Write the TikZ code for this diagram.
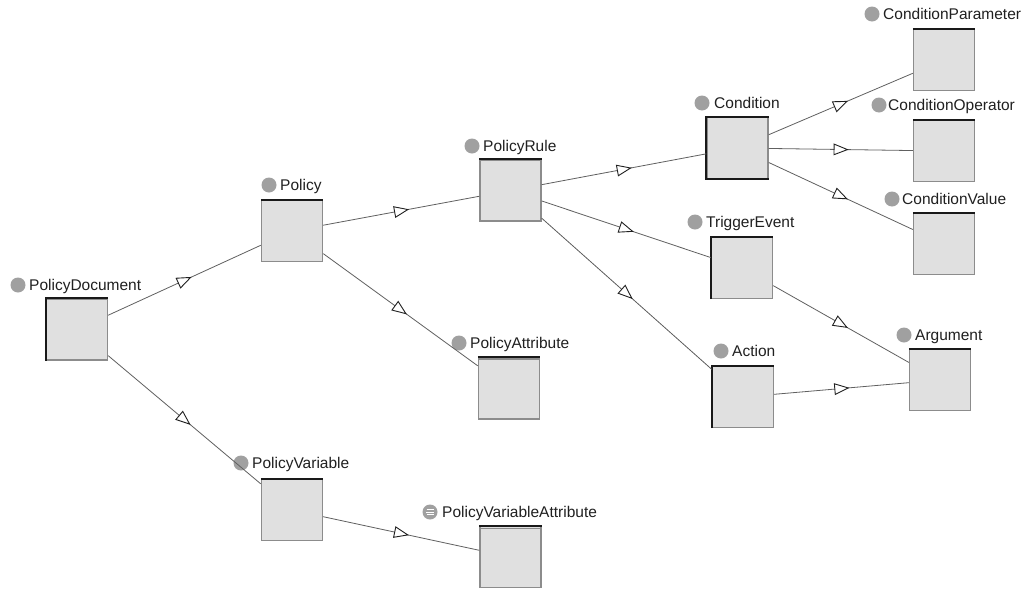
\documentclass[tikz,border=0pt]{standalone}
\usepackage{fontspec}
\setmainfont{Liberation Sans}
\usetikzlibrary{decorations.markings}
\definecolor{boxfill}{HTML}{E0E0E0}
\definecolor{boxline}{HTML}{8C8C8C}
\definecolor{dotgrey}{HTML}{A0A0A0}
\definecolor{edgegrey}{HTML}{606060}
\definecolor{txt}{HTML}{202020}
\begin{document}
\begin{tikzpicture}[x=1pt,y=-1pt,
  cls/.style={rectangle, draw=boxline, fill=boxfill, line width=1.4pt, minimum width=61pt, minimum height=61pt, inner sep=0pt},
  lbl/.style={anchor=base west, inner sep=0pt, font=\fontsize{15.5}{18}\selectfont, text=txt},
  lbldot/.style={circle, fill=dotgrey, minimum size=15pt, inner sep=0pt},
  rel/.style={draw=edgegrey, line width=0.8pt, postaction={decorate},
    decoration={markings, mark=at position 0.5 with {\draw[draw=txt, fill=white, line width=0.9pt, line join=miter] (6.7pt,0pt) -- (-6.7pt,5.3pt) -- (-6.7pt,-5.3pt) -- cycle;}}},
  darkedge/.style={draw=black!90, line width=2pt},
  secondline/.style={draw=boxline, line width=1pt},
]
\fill[white] (0,0) rectangle (1029,592);
\useasboundingbox (0,0) rectangle (1029,592);

% labels
\node[lbldot] (dPD) at (18,285) {};
\node[lbl] (tPD) at (29,290.5) {PolicyDocument};
\node[lbldot] (dP) at (269,185) {};
\node[lbl] (tP) at (280,190.5) {Policy};
\node[lbldot] (dPR) at (472,146) {};
\node[lbl] (tPR) at (483,151.5) {PolicyRule};
\node[lbldot] (dC) at (702,103) {};
\node[lbl] (tC) at (714,108.5) {Condition};
\node[lbldot] (dCP) at (872,14) {};
\node[lbl] (tCP) at (883,19.5) {ConditionParameter};
\node[lbldot] (dCO) at (879,105) {};
\node[lbl] (tCO) at (888,110.5) {ConditionOperator};
\node[lbldot] (dCV) at (892,199) {};
\node[lbl] (tCV) at (902,204.5) {ConditionValue};
\node[lbldot] (dTE) at (695,222) {};
\node[lbl] (tTE) at (706,227.5) {TriggerEvent};
\node[lbldot] (dA) at (721,351) {};
\node[lbl] (tA) at (732,356.5) {Action};
\node[lbldot] (dArg) at (904,335) {};
\node[lbl] (tArg) at (915,340.5) {Argument};
\node[lbldot] (dPA) at (459,343) {};
\node[lbl] (tPA) at (470,348.5) {PolicyAttribute};
\node[lbldot] (dPV) at (241,463) {};
\node[lbl] (tPV) at (252,468.5) {PolicyVariable};
\node[lbldot] (dPVA) at (430,512) {};
\draw[white, line width=0.9pt] (426.5,509.5) -- (433.5,509.5) (426,512) -- (434,512) (426.5,514.5) -- (433.5,514.5);
\node[lbl] (tPVA) at (442,517.5) {PolicyVariableAttribute};

% boxes
\node[cls] (PD) at (77,329.5) {};
\node[cls] (P) at (292,231) {};
\node[cls] (PR) at (510.5,190.5) {};
\node[cls] (C) at (737.5,148) {};
\node[cls] (CP) at (944,60) {};
\node[cls] (CO) at (944,151) {};
\node[cls] (CV) at (944,244) {};
\node[cls] (TE) at (742,268) {};
\node[cls] (A) at (743,397) {};
\node[cls] (Arg) at (940,380) {};
\node[cls] (PA) at (509,388.5) {};
\node[cls] (PV) at (292,510) {};
\node[cls] (PVA) at (510.5,557) {};

% dark borders
\draw[darkedge] (PD.south west) -- (PD.north west) -- (PD.north east);
\draw[darkedge] (P.north west) -- (P.north east);
\draw[darkedge] (PR.north west) -- (PR.north east);
\draw[darkedge] (C.south east) -- (C.south west) -- (C.north west) -- (C.north east);
\draw[darkedge] (CP.north west) -- (CP.north east);
\draw[darkedge] (CO.north west) -- (CO.north east);
\draw[darkedge] (CV.north west) -- (CV.north east);
\draw[darkedge] (TE.south west) -- (TE.north west) -- (TE.north east);
\draw[darkedge] (A.south west) -- (A.north west) -- (A.north east);
\draw[darkedge] (Arg.north west) -- (Arg.north east);
\draw[darkedge] (PA.north west) -- (PA.north east);
\draw[secondline] ([yshift=-2.6pt]PA.north west) -- ([yshift=-2.6pt]PA.north east);
\draw[darkedge] (PV.north west) -- (PV.north east);
\draw[darkedge] (PVA.north west) -- (PVA.north east);
\draw[secondline] ([yshift=-2.6pt]PVA.north west) -- ([yshift=-2.6pt]PVA.north east);

% relations
\draw[rel] (PD) -- (P);
\draw[rel] (PD) -- (PV);
\draw[rel] (P) -- (PR);
\draw[rel] (P) -- (PA);
\draw[rel] (PR) -- (C);
\draw[rel] (PR) -- (TE);
\draw[rel] (PR) -- (A);
\draw[rel] (C) -- (CP);
\draw[rel] (C) -- (CO);
\draw[rel] (C) -- (CV);
\draw[rel] (TE) -- (Arg);
\draw[rel] (A) -- (Arg);
\draw[rel] (PV) -- (PVA);
\end{tikzpicture}
\end{document}
